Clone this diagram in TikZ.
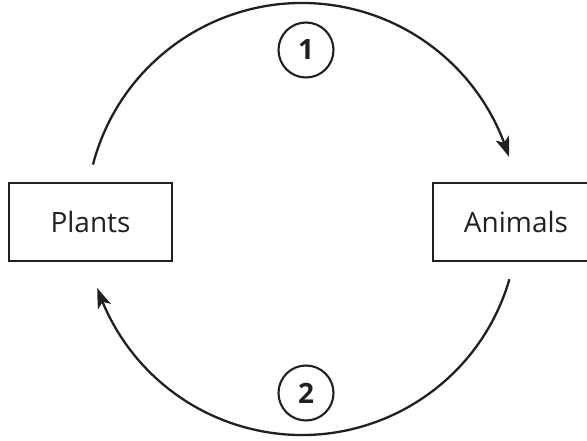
\documentclass[tikz,border=0pt]{standalone}
\usepackage{fontspec}
\setmainfont{Open Sans}
\usetikzlibrary{arrows.meta,bending,calc}
\definecolor{ink}{HTML}{231F20}
\tikzset{
  box/.style={draw=ink, line width=2.4pt, minimum width=163pt, minimum height=78pt, inner sep=0pt,
    font=\fontsize{28}{32}\selectfont, text=ink},
  badge/.style={draw=ink, line width=2.1pt, circle, minimum size=55pt, inner sep=0pt,
    font=\fontsize{28}{32}\selectfont\bfseries, text=ink},
  cycle/.style={draw=ink, line width=2.3pt, -{Stealth[length=20pt,width=14pt,inset=5pt,bend]}},
}
\begin{document}
\begin{tikzpicture}[x=1pt,y=1pt]
  \useasboundingbox (0,0) rectangle (587,440);
  \clip (0,0) rectangle (587,440);
  \node[box] (plants) at (90.5,218) {Plants};
  \node[box, minimum width=166pt] (animals) at (516,218) {Animals};
  \node[badge] (one) at (306,390) {1};
  \node[badge] (two) at (306,47) {2};
  \coordinate (c) at (302,221);
  \coordinate (topstart) at ($(c)+(165.4:216)$);
  \coordinate (botstart) at ($(c)+(-16.2:216)$);
  \draw[cycle] (topstart) arc[start angle=165.4, end angle=16.7, radius=216];
  \draw[cycle] (botstart) arc[start angle=-16.2, end angle=-161.4, radius=216];
\end{tikzpicture}
\end{document}
